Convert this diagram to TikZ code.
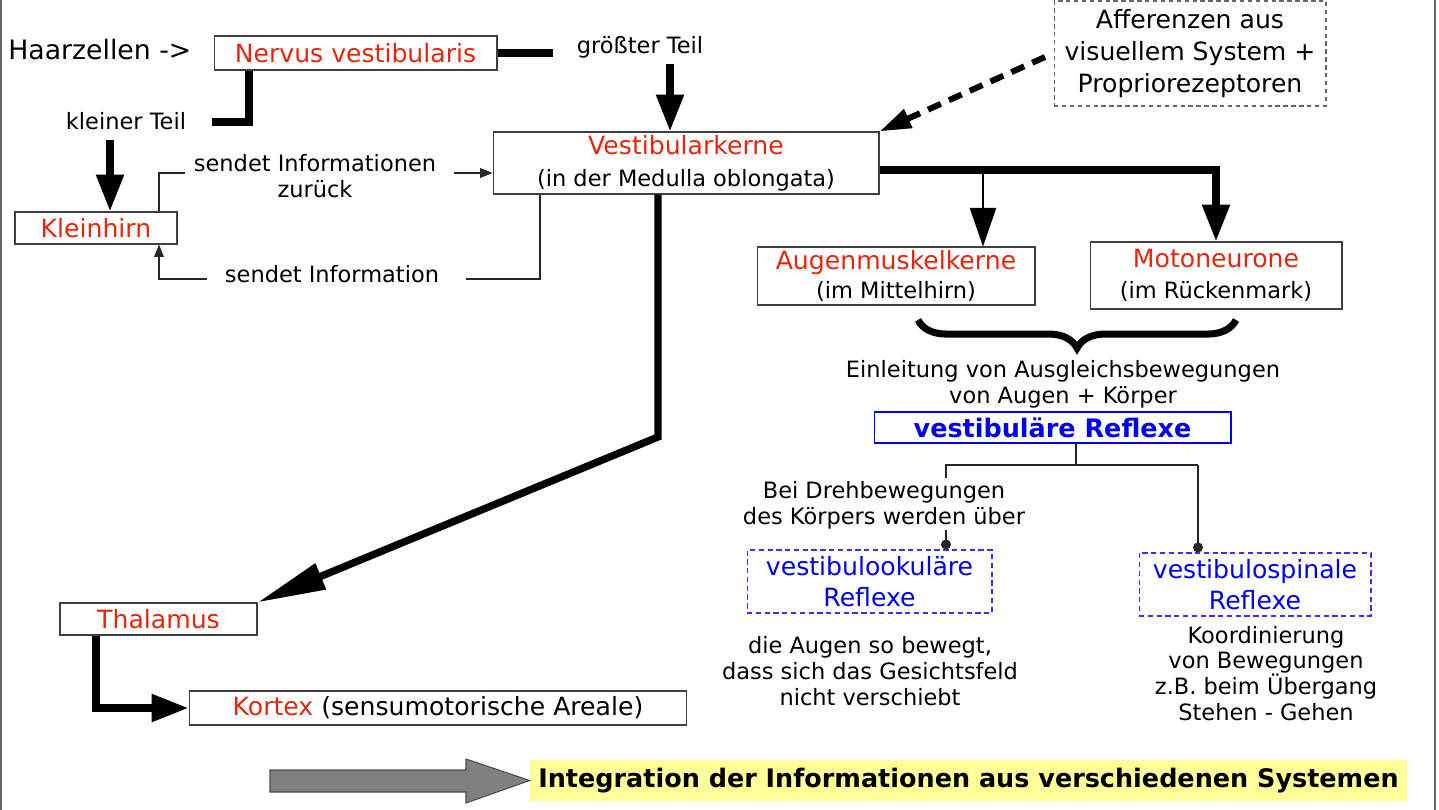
\documentclass[tikz,border=0pt]{standalone}
\usepackage{fontspec}
\setmainfont{DejaVu Sans}
\usetikzlibrary{arrows.meta,decorations.pathreplacing}
\definecolor{nred}{RGB}{228,38,12}
\definecolor{rblue}{RGB}{0,0,240}
\definecolor{hlyellow}{RGB}{255,255,153}
\newcommand{\bigfont}{\fontsize{14.3}{18}\selectfont}
\newcommand{\smallfont}{\fontsize{12.8}{14.7}\selectfont}
\newcommand{\boldfont}{\fontsize{14.5}{18}\selectfont\bfseries}
\newcommand{\rd}[1]{\textcolor{nred}{#1}}
\begin{document}
\begin{tikzpicture}[x=0.02cm,y=-0.02cm,
    box/.style={draw=black!75,line width=0.6pt,align=center,inner sep=0pt,font=\bigfont},
    rbox/.style={box,draw=rblue!80,dash pattern=on 3pt off 2pt,text=rblue},
    txt/.style={inner sep=0pt,font=\bigfont},
    smtxt/.style={inner sep=0pt,align=center,font=\smallfont},
    thickline/.style={line width=4.2pt},
    thinline/.style={line width=0.6pt,black!85},
    bigarrow/.style={thickline,-{Triangle[length=21pt,width=15pt]}},
    thinarrow/.style={thinline,-{Triangle[length=7pt,width=5.5pt]}},
    dotline/.style={thinline,-{Circle[length=5.7pt]}}]
    \useasboundingbox (0,0) rectangle (1439,810);
    \draw[black!60,line width=0.8pt] (1,0) -- (1,810);
    \draw[black!60,line width=0.8pt] (1435,0) -- (1435,810);

    \node[txt,anchor=west,font=\fontsize{15.2}{18}\selectfont] (haar) at (8,50) {Haarzellen ->};
    \node[box,minimum width=5.66cm,minimum height=0.68cm] (nervus) at (355.5,53) {\rd{Nervus vestibularis}};
    \node[smtxt] (kleiner) at (126,121) {kleiner Teil};
    \node[smtxt] (groesst) at (640,47) {größter Teil};
    \node[box,minimum width=3.24cm,minimum height=0.64cm] (klein) at (96,228) {\rd{Kleinhirn}};
    \node[box,minimum width=7.72cm,minimum height=1.24cm] (vkern) at (686,163) {\rd{Vestibularkerne}\\{\smallfont(in der Medulla oblongata)}};
    \node[smtxt] (zurueck) at (315,176) {sendet Informationen\\zurück};
    \node[smtxt] (sendinf) at (332,274) {sendet Information};
    \node[box,draw=black!60,dash pattern=on 2.5pt off 2pt,minimum width=5.44cm,minimum height=2.1cm] (affer) at (1190,53.5) {Afferenzen aus\\visuellem System +\\Propriorezeptoren};
    \node[box,minimum width=5.56cm,minimum height=1.16cm] (augen) at (896,276) {\rd{Augenmuskelkerne}\\[-1.6pt]{\smallfont(im Mittelhirn)}};
    \node[box,minimum width=5.04cm,minimum height=1.34cm] (moto) at (1216,275.5) {\rd{Motoneurone}\\{\smallfont(im Rückenmark)}};
    \node[smtxt] (einl) at (1063,384) {Einleitung von Ausgleichsbewegungen\\von Augen + Körper};
    \node[box,draw=rblue,minimum width=7.14cm,minimum height=0.62cm,font=\boldfont,text=rblue] (vrefl) at (1052.5,427.5) {vestibuläre Reflexe};
    \node[smtxt] (dreh) at (884,505) {Bei Drehbewegungen\\des Körpers werden über};
    \node[rbox,minimum width=4.9cm,minimum height=1.26cm] (vok) at (869.5,581.5) {vestibulookuläre\\Reflexe};
    \node[rbox,minimum width=4.64cm,minimum height=1.26cm] (vsp) at (1255,584.5) {vestibulospinale\\Reflexe};
    \node[smtxt] (augtxt) at (870,671) {die Augen so bewegt,\\dass sich das Gesichtsfeld\\nicht verschiebt};
    \node[smtxt] (koord) at (1266,673.5) {Koordinierung\\von Bewegungen\\z.B. beim Übergang\\Stehen - Gehen};
    \node[box,minimum width=3.94cm,minimum height=0.64cm] (thal) at (158.5,619) {\rd{Thalamus}};
    \node[box,minimum width=9.96cm,minimum height=0.68cm] (kortex) at (438,708) {\rd{Kortex} (sensumotorische Areale)};
    \node[fill=hlyellow,inner sep=0pt,minimum width=17.54cm,minimum height=0.82cm,font=\boldfont] (integ) at (968.5,780.5) {Integration der Informationen aus verschiedenen Systemen};

    \coordinate (gtend) at (553,53);
    \coordinate (gtarr) at (670,64);
    \coordinate (ktend) at (212,122);
    \coordinate (ktarr) at (110,140);
    \coordinate (zurend) at (185,173);
    \coordinate (zurarr) at (454,173);
    \coordinate (infend) at (466,279);
    \coordinate (infarr) at (207,279);
    \coordinate (thbend) at (658,437);
    \coordinate (afarr) at (1045,57);
    \coordinate (refl) at (1076,465);

    \draw[thickline] (nervus.east) -- (gtend);
    \draw[bigarrow] (gtarr) -- (gtarr |- vkern.north);
    \draw[thickline] (ktend) -- (249,122) -- (249,0 |- nervus.south);
    \draw[bigarrow] (ktarr) -- (ktarr |- klein.north);
    \draw[thinline] (159,0 |- klein.north) |- (zurend);
    \draw[thinarrow] (zurarr) -- (zurarr -| vkern.west);
    \draw[thinline] (540,0 |- vkern.south) |- (infend);
    \draw[thinarrow] (infarr) -| (159,0 |- klein.south);
    \draw[thickline,-{Triangle[length=39pt,width=15pt]}] (thbend |- vkern.south) -- (thbend) -- (thal.north east);
    \draw[bigarrow] (96,0 |- thal.south) |- (kortex.west);
    \draw[line width=3.4pt,dash pattern=on 8pt off 5pt,-{Triangle[length=18pt,width=11pt]}] (afarr) -- (vkern.north east);
    \draw[bigarrow] (vkern.east |- 0,170) -| (moto.north);
    \draw[line width=0.8pt,-{Triangle[length=22pt,width=15pt]}] (983,170) -- (983,0 |- augen.north);
    \draw[line width=4pt,decorate,decoration={brace,mirror,amplitude=16pt}] (918,320) -- (1236,320);
    \draw[thinline] (refl |- vrefl.south) -- (refl);
    \draw[thinline] (946,478) |- (1198,465);
    \draw[dotline] (946,530) -- (946,0 |- vok.north);
    \draw[dotline] (1198,465) -- (1198,0 |- vsp.north);
    \draw[fill=black!50,draw=black!70,line width=0.6pt] (270,770) -- (466,770) -- (466,759) -- (integ.west) -- (466,803) -- (466,792) -- (270,792) -- cycle;
\end{tikzpicture}
\end{document}
